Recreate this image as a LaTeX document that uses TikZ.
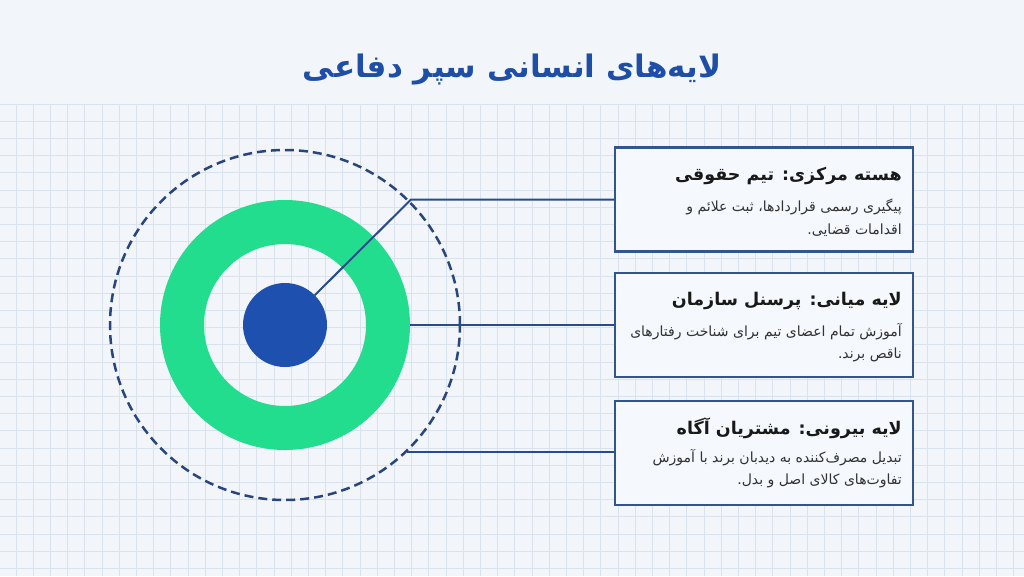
\documentclass[tikz,border=0pt]{standalone}
\usepackage{fontspec}
\newfontfamily\persianfont[Script=Arabic]{DejaVu Sans}
\TeXXeTstate=1
\definecolor{pagebg}{RGB}{242,245,250}
\definecolor{gridblue}{RGB}{218,226,238}
\definecolor{titleblue}{RGB}{30,78,165}
\definecolor{nucleusblue}{RGB}{30,80,175}
\definecolor{ringgreen}{RGB}{34,221,141}
\definecolor{dashnavy}{RGB}{40,70,125}
\definecolor{linkblue}{RGB}{40,75,140}
\definecolor{boxedge}{RGB}{50,85,140}
\definecolor{boxfill}{RGB}{245,248,252}
\definecolor{headink}{RGB}{25,25,25}
\definecolor{bodyink}{RGB}{50,50,50}
\tikzset{
  gridline/.style={draw=gridblue, line width=0.7pt},
  nucleus/.style={circle, fill=nucleusblue, minimum size=84pt, inner sep=0pt},
  ring/.style={circle, draw=ringgreen, line width=44pt, minimum size=206pt, inner sep=0pt},
  outerring/.style={circle, draw=dashnavy, line width=2.5pt, dash pattern=on 9pt off 5pt, minimum size=350pt, inner sep=0pt},
  link/.style={draw=linkblue, line width=2pt},
  infobox/.style={rectangle, draw=boxedge, fill=boxfill, line width=2.5pt, minimum width=298pt, minimum height=104pt},
  headtext/.style={anchor=east, inner sep=0pt, text=headink, font=\persianfont\bfseries\fontsize{17.5}{20}\selectfont},
  bodytext/.style={anchor=east, inner sep=0pt, text=bodyink, font=\persianfont\fontsize{14}{16}\selectfont}
}
\begin{document}
\begin{tikzpicture}[x=1pt, y=-1pt]
    \useasboundingbox (0,0) rectangle (1024,576);
    \fill[pagebg] (0,0) rectangle (1024,576);
    \foreach \gx in {-1.2,16,...,1024}
    \draw[gridline] (\gx,104) -- (\gx,576);
    \foreach \gy in {104,121.2,...,576}
    \draw[gridline] (0,\gy) -- (1024,\gy);
    % title
    \node[text=titleblue, font=\persianfont\bfseries\fontsize{31}{36}\selectfont] (title) at (512,70) {\beginR لایه‌های انسانی سپر دفاعی\endR};
    % layers
    \coordinate (c) at (285,325);
    \node[outerring] (outer) at (c) {};
    \node[ring] (middle) at (c) {};
    \node[nucleus] (core) at (c) {};
    % boxes
    \node[infobox] (legal) at (764,199.5) {};
    \node[infobox] (staff) at (764,325) {};
    \node[infobox] (clients) at (764,453) {};
    % connectors
    \coordinate (bend) at (411,199.5);
    \draw[link] (core.45) -- (bend) -- (legal.west);
    \draw[link] (middle.east) -- (staff.west);
    \draw[link] (outer.-46) -- (outer.-46 -| clients.west);
    % texts
    \node[headtext] (legalHead) at (902,176) {\beginR هسته مرکزی: تیم حقوقی\endR};
    \node[bodytext] (legalA) at (902,207) {\beginR پیگیری رسمی قراردادها، ثبت علائم و\endR};
    \node[bodytext] (legalB) at (902,230) {\beginR اقدامات قضایی.\endR};
    \node[headtext] (staffHead) at (902,301) {\beginR لایه میانی: پرسنل سازمان\endR};
    \node[bodytext] (staffA) at (902,332) {\beginR آموزش تمام اعضای تیم برای شناخت رفتارهای\endR};
    \node[bodytext] (staffB) at (902,355) {\beginR ناقص برند.\endR};
    \node[headtext] (clientsHead) at (902,428) {\beginR لایه بیرونی: مشتریان آگاه\endR};
    \node[bodytext] (clientsA) at (902,458) {\beginR تبدیل مصرف‌کننده به دیدبان برند با آموزش\endR};
    \node[bodytext] (clientsB) at (902,481) {\beginR تفاوت‌های کالای اصل و بدل.\endR};
\end{tikzpicture}
\end{document}
